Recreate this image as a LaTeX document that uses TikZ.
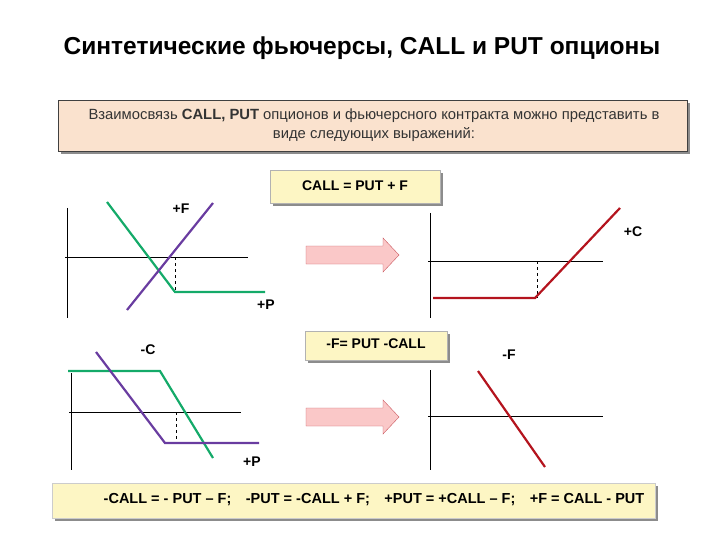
\documentclass[tikz,border=0pt]{standalone}
\usepackage{fontspec}
\setmainfont{Liberation Sans}
\definecolor{peach}{RGB}{250,226,206}
\definecolor{pale}{RGB}{253,246,196}
\definecolor{lgreen}{RGB}{20,170,105}
\definecolor{lpurple}{RGB}{105,60,160}
\definecolor{lred}{RGB}{180,20,30}
\definecolor{pinky}{RGB}{250,200,200}
\begin{document}
\begin{tikzpicture}[x=1pt,y=-1pt,
  axis/.style={black, line width=0.6pt},
  curve/.style={line width=2.2pt},
  lbl/.style={font=\bfseries\fontsize{14}{16}\selectfont},
  arrowfill/.style={draw=lred!70, fill=pinky}]
\useasboundingbox (0,0) rectangle (720,540);
  % title and boxes
  \node[font=\bfseries\fontsize{24.5}{28}\selectfont] (title) at (362,48) {Синтетические фьючерсы, CALL и PUT опционы};
  \fill[black!45] (61,103) rectangle (690,154);
  \filldraw[fill=peach, draw=black!75] (58,100) rectangle (687,151);
  \node[align=center, font=\fontsize{14.8}{18.5}\selectfont, text=black!80] (intro) at (374,125) {Взаимосвязь \textbf{CALL, PUT} опционов и фьючерсного контракта можно представить в\\виде следующих выражений:};
  \fill[black!45] (273,173) rectangle (443,206);
  \filldraw[fill=pale, draw=black!30] (270,170) rectangle (440,203);
  \node[lbl] (eq1) at (355,186) {CALL = PUT + F};
  \fill[black!45] (308,334) rectangle (450,363);
  \filldraw[fill=pale, draw=black!30] (305,331) rectangle (447,360);
  \node[lbl] (eq2) at (376,344) {-F= PUT -CALL};
  \fill[black!45] (55,486) rectangle (658,521);
  \filldraw[fill=pale, draw=black!20] (52,483) rectangle (655,518);
  \node[font=\bfseries\fontsize{14.5}{17}\selectfont] (eq3) at (374,500) {-CALL = - PUT – F;\quad -PUT = -CALL + F;\quad +PUT = +CALL – F;\quad +F = CALL - PUT};

  % graph 1
  \draw[axis] (67,208) -- (67,318);
  \draw[axis] (65,257) -- (248,257);
  \draw[dashed] (175,257) -- (175,292);
  \draw[curve, lgreen] (107,202) -- (175,292) -- (265,292);
  \draw[curve, lpurple] (127,310) -- (213,203);
  \node[lbl] (f1) at (181,209) {+F};
  \node[lbl] (p1) at (266,305) {+P};
  \draw[arrowfill] (306,246) -- (383,246) -- (383,238) -- (399,255) -- (383,272) -- (383,264) -- (306,264) -- cycle;

  % graph 2
  \draw[axis] (430,213) -- (430,318);
  \draw[axis] (428,261) -- (603,261);
  \draw[dashed] (537,261) -- (537,298);
  \draw[curve, lred] (433,298) -- (535,298) -- (620,208);
  \node[lbl] (c2) at (633,232) {+C};

  % graph 3
  \draw[axis] (71,373) -- (71,470);
  \draw[axis] (69,412) -- (241,412);
  \draw[dashed] (176,412) -- (176,443);
  \draw[curve, lgreen] (68,371) -- (160,371) -- (213,458);
  \draw[curve, lpurple] (96,352) -- (165,443) -- (259,443);
  \node[lbl] (c3) at (148,350) {-C};
  \node[lbl] (p3) at (252,462) {+P};
  \draw[arrowfill] (306,408) -- (383,408) -- (383,400) -- (399,417) -- (383,434) -- (383,426) -- (306,426) -- cycle;

  % graph 4
  \draw[axis] (430,370) -- (430,470);
  \draw[axis] (428,416) -- (603,416);
  \draw[curve, lred] (478,371) -- (545,467);
  \node[lbl] (f4) at (509,355) {-F};
\end{tikzpicture}
\end{document}
